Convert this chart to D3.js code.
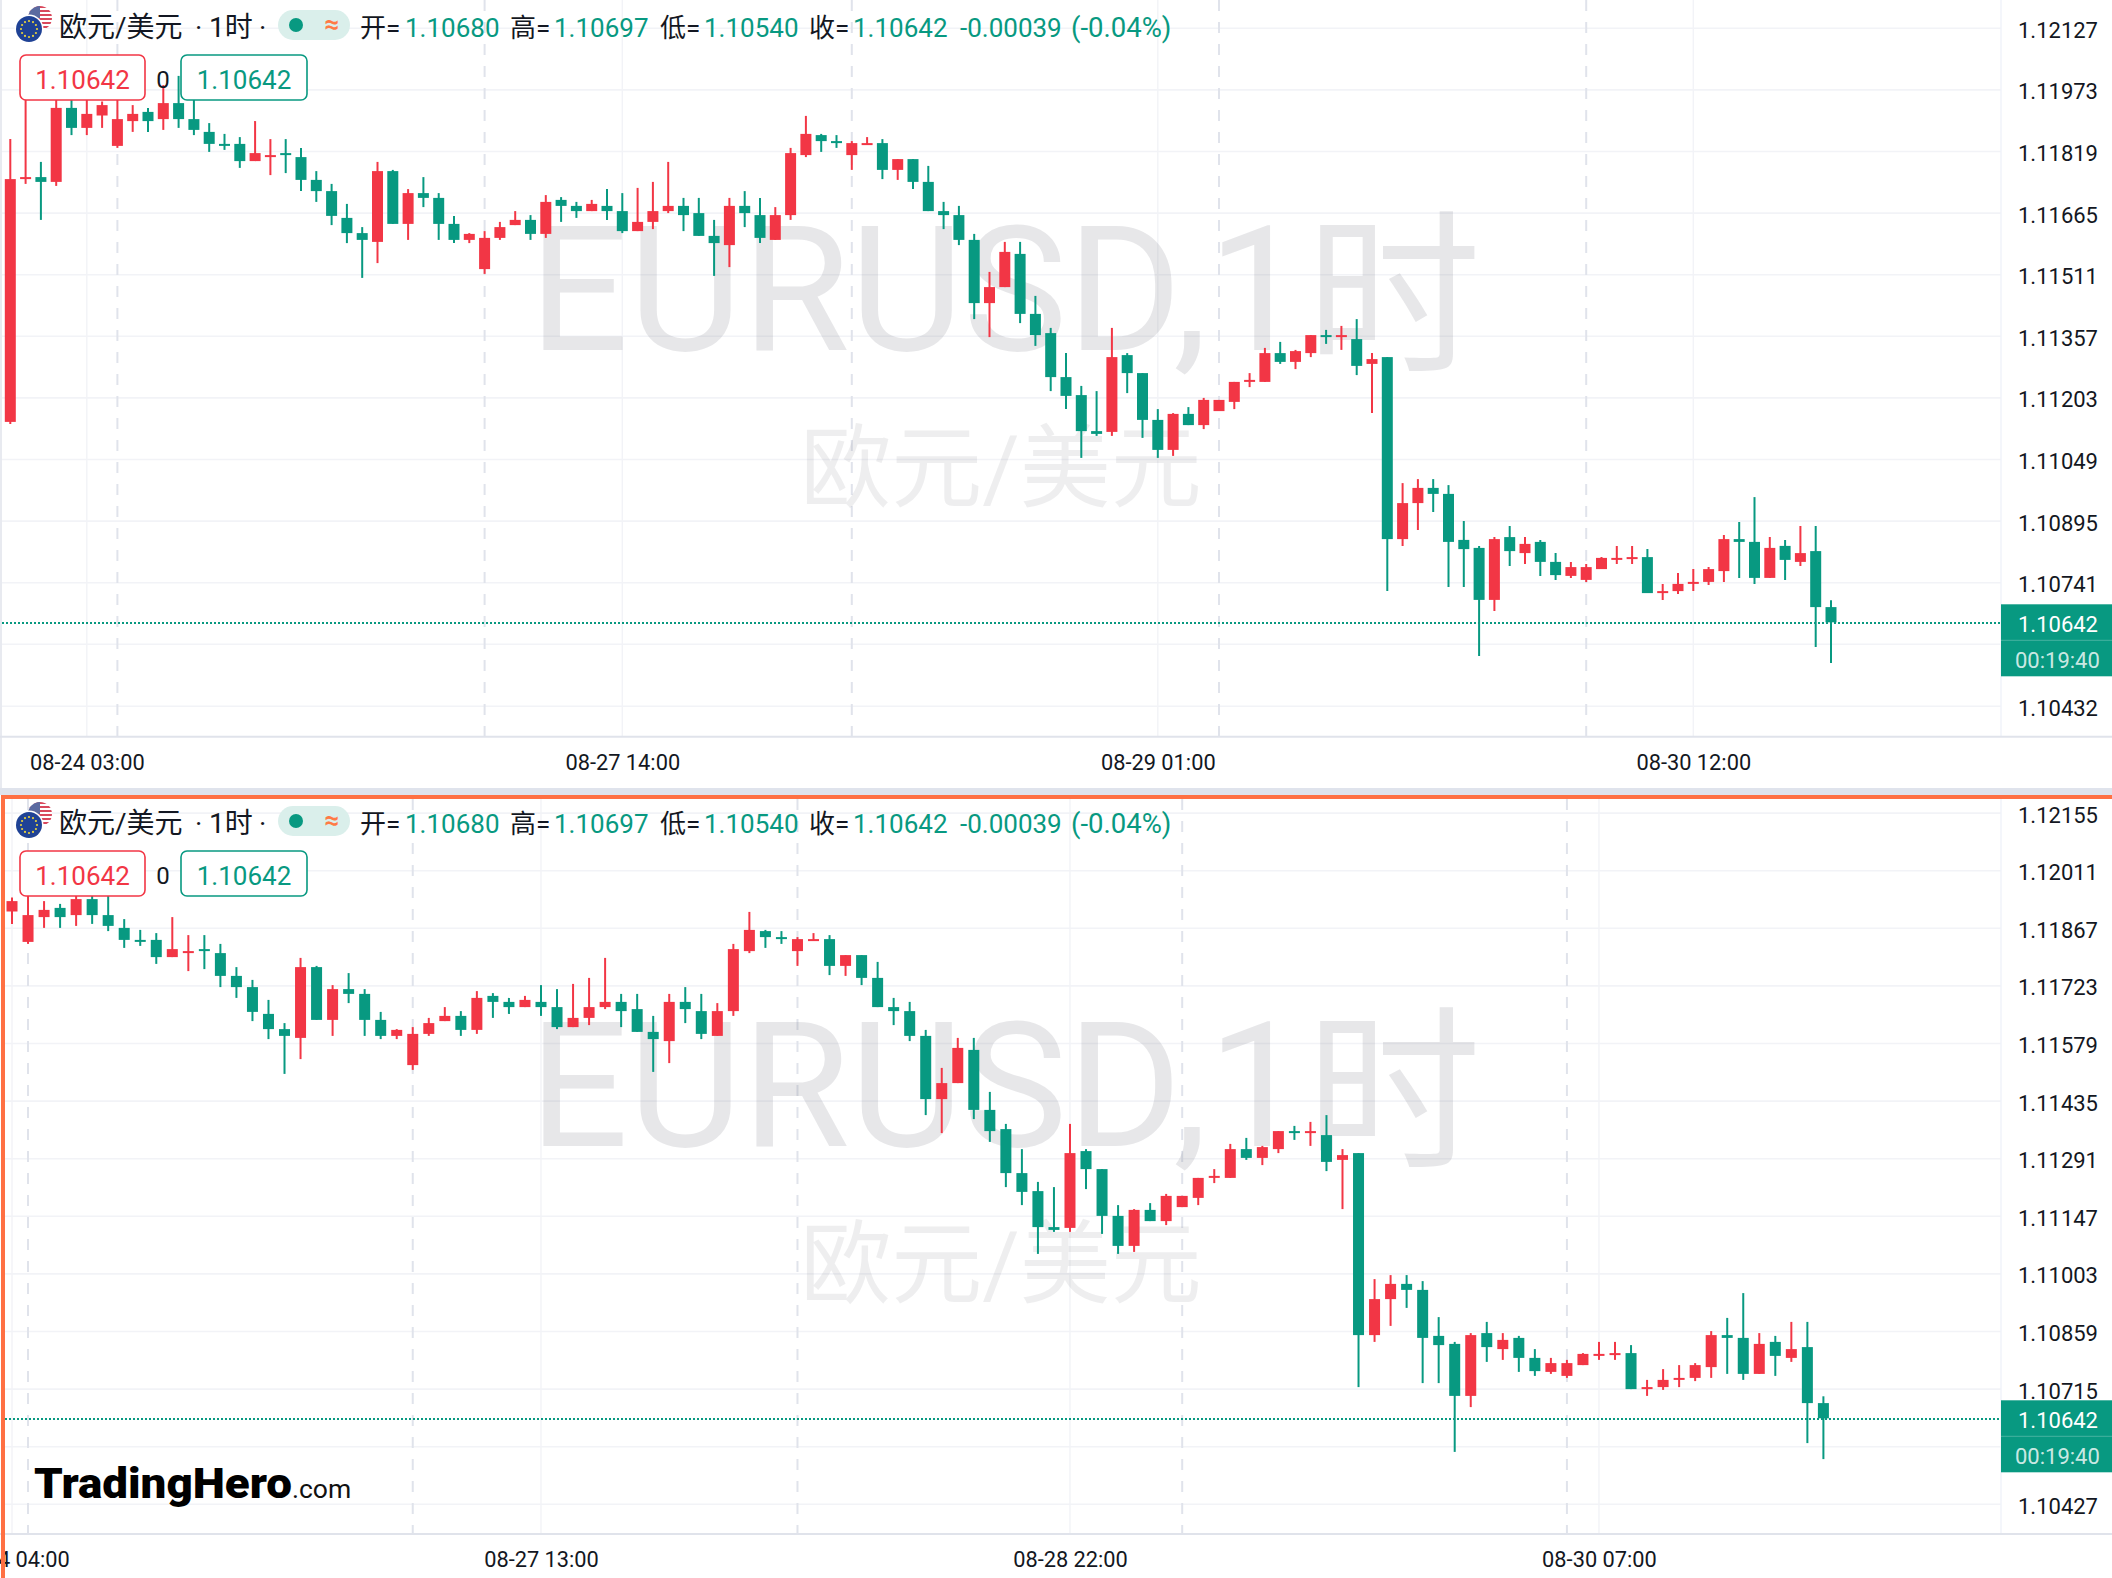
<!DOCTYPE html>
<html lang="zh">
<head>
    <meta charset="UTF-8">
    <title>EURUSD 1H</title>
    <script src="https://d3js.org/d3.v7.min.js"></script>
    <style>
        html, body { margin: 0; padding: 0; background: #fff; }
        svg { display: block; }
        text { font-family: Roboto, "Noto Sans CJK SC", sans-serif; }
        .price-axis text { font-size: 22px; fill: #131722; }
        .time-axis text { font-size: 21.8px; fill: #131722; }
    </style>
</head>
<body>
    <svg id="chart" width="2112" height="1578"></svg>

    <script>
        const opens = [1.11143,1.11750,1.11755,1.11743,1.11928,1.11878,1.11909,1.11833,1.11895,1.11918,
            1.11900,1.11940,1.11900,1.11868,1.11838,1.11838,1.11795,1.11805,1.11815,1.11805,
            1.11748,1.11720,1.11653,1.11615,1.11593,1.11770,1.11638,1.11715,1.11703,1.11638,
            1.11598,1.11525,1.11603,1.11635,1.11648,1.11613,1.11698,1.11683,1.11670,1.11683,
            1.11670,1.11620,1.11643,1.11670,1.11683,1.11665,1.11608,1.11585,1.11683,1.11660,
            1.11598,1.11660,1.11810,1.11860,1.11845,1.11810,1.11838,1.11840,1.11773,1.11800,
            1.11743,1.11670,1.11660,1.11598,1.11440,1.11480,1.11563,1.11413,1.11365,1.11255,
            1.11210,1.11120,1.11118,1.11310,1.11265,1.11148,1.11073,1.11163,1.11135,1.11170,
            1.11193,1.11243,1.11243,1.11315,1.11293,1.11315,1.11360,1.11355,1.11350,1.11288,
            1.11305,1.10850,1.10940,1.10978,1.10963,1.10848,1.10828,1.10698,1.10855,1.10815,
            1.10843,1.10793,1.10758,1.10748,1.10775,1.10798,1.10803,1.10805,1.10715,1.10720,
            1.10738,1.10743,1.10770,1.10850,1.10843,1.10753,1.10833,1.10793,1.10820,1.10680];
        const highs = [1.11850,1.12031,1.11793,1.11964,1.11948,1.11956,1.11944,1.11956,1.11935,1.11928,
            1.11985,1.12008,1.11956,1.11890,1.11863,1.11855,1.11895,1.11850,1.11850,1.11828,
            1.11770,1.11738,1.11688,1.11630,1.11793,1.11773,1.11725,1.11755,1.11715,1.11658,
            1.11615,1.11620,1.11643,1.11670,1.11660,1.11710,1.11705,1.11693,1.11698,1.11725,
            1.11715,1.11728,1.11743,1.11793,1.11703,1.11703,1.11648,1.11703,1.11720,1.11703,
            1.11680,1.11828,1.11908,1.11863,1.11860,1.11845,1.11855,1.11850,1.11800,1.11800,
            1.11783,1.11693,1.11683,1.11613,1.11518,1.11593,1.11593,1.11458,1.11378,1.11315,
            1.11233,1.11220,1.11378,1.11315,1.11265,1.11175,1.11165,1.11180,1.11203,1.11198,
            1.11243,1.11265,1.11328,1.11343,1.11323,1.11360,1.11373,1.11383,1.11400,1.11315,
            1.11305,1.10990,1.11000,1.11000,1.10985,1.10895,1.10833,1.10855,1.10883,1.10855,
            1.10848,1.10815,1.10793,1.10788,1.10805,1.10833,1.10833,1.10825,1.10738,1.10765,
            1.10775,1.10780,1.10860,1.10893,1.10955,1.10855,1.10848,1.10883,1.10883,1.10697];
        const lows = [1.11138,1.11738,1.11648,1.11733,1.11860,1.11860,1.11878,1.11828,1.11868,1.11868,
            1.11873,1.11878,1.11860,1.11818,1.11823,1.11778,1.11795,1.11760,1.11765,1.11720,
            1.11693,1.11635,1.11590,1.11503,1.11540,1.11638,1.11598,1.11680,1.11598,1.11590,
            1.11590,1.11513,1.11598,1.11635,1.11598,1.11603,1.11643,1.11653,1.11670,1.11648,
            1.11615,1.11620,1.11625,1.11665,1.11620,1.11608,1.11508,1.11530,1.11630,1.11590,
            1.11598,1.11648,1.11805,1.11818,1.11828,1.11773,1.11838,1.11750,1.11748,1.11725,
            1.11670,1.11625,1.11585,1.11400,1.11355,1.11480,1.11390,1.11333,1.11220,1.11175,
            1.11053,1.11108,1.11108,1.11215,1.11103,1.11053,1.11058,1.11135,1.11125,1.11170,
            1.11175,1.11230,1.11243,1.11288,1.11275,1.11305,1.11338,1.11323,1.11260,1.11165,
            1.10720,1.10833,1.10873,1.10918,1.10730,1.10730,1.10558,1.10670,1.10783,1.10788,
            1.10758,1.10748,1.10753,1.10743,1.10775,1.10788,1.10788,1.10715,1.10698,1.10713,
            1.10720,1.10735,1.10743,1.10753,1.10738,1.10753,1.10748,1.10783,1.10580,1.10540];
        const closes = [1.11750,1.11755,1.11743,1.11928,1.11878,1.11913,1.11935,1.11900,1.11913,1.11895,
            1.11940,1.11900,1.11873,1.11838,1.11833,1.11795,1.11815,1.11810,1.11810,1.11748,
            1.11720,1.11658,1.11615,1.11598,1.11770,1.11638,1.11715,1.11703,1.11638,1.11598,
            1.11613,1.11603,1.11630,1.11648,1.11613,1.11693,1.11683,1.11670,1.11688,1.11670,
            1.11620,1.11643,1.11670,1.11683,1.11660,1.11608,1.11590,1.11683,1.11665,1.11603,
            1.11660,1.11815,1.11863,1.11845,1.11840,1.11840,1.11840,1.11773,1.11800,1.11743,
            1.11670,1.11660,1.11598,1.11440,1.11480,1.11568,1.11413,1.11360,1.11255,1.11208,
            1.11120,1.11113,1.11305,1.11265,1.11148,1.11073,1.11163,1.11135,1.11198,1.11198,
            1.11243,1.11248,1.11315,1.11293,1.11320,1.11360,1.11358,1.11360,1.11283,1.11300,
            1.10850,1.10940,1.10978,1.10963,1.10843,1.10825,1.10698,1.10850,1.10820,1.10838,
            1.10793,1.10760,1.10780,1.10780,1.10803,1.10803,1.10805,1.10715,1.10720,1.10738,
            1.10743,1.10775,1.10850,1.10843,1.10753,1.10828,1.10798,1.10815,1.10680,1.10642];

        const lastPrice = 1.10642;
        const countdown = "00:19:40";

        // Tick values and labels
        const topPriceTicks = [1.12127,1.11973,1.11819,1.11665,1.11511,1.11357,1.11203,1.11049,1.10895,1.10741,1.10587,1.10432];
        const bottomPriceTicks = [1.12155,1.12011,1.11867,1.11723,1.11579,1.11435,1.11291,1.11147,1.11003,1.10859,1.10715,1.10571,1.10427];
        const topTimeBars = [5, 40, 75, 110];
        const topTimeLabels = ["08-24 03:00", "08-27 14:00", "08-29 01:00", "08-30 12:00"];
        const bottomTimeBars = [6, 39, 72, 105];
        const bottomTimeLabels = ["08-24 04:00", "08-27 13:00", "08-28 22:00", "08-30 07:00"];
        const dayStartBars = [7, 31, 55, 79, 103];

        const UP = "#f23645", DOWN = "#089981", GRID = "#f2f3f7", DASH = "#e0e3eb";
        const PLOT_RIGHT = 2001;

        const svg = d3.select("#chart");

        // One panel: same drawing for both, only the scales and the offset differ
        function drawPanel(opt) {
            const g = svg.append("g").attr("transform", `translate(0,${opt.offset})`);
            const x = d3.scaleLinear().domain(opt.xDomain).range(opt.xRange);
            const y = d3.scaleLinear().domain(opt.yDomain).range(opt.yRange);
            const axisY = opt.axisY;

            // grid
            g.append("g").selectAll("line").data(opt.priceTicks).join("line")
                .attr("x1", opt.left).attr("x2", PLOT_RIGHT)
                .attr("y1", d => y(d)).attr("y2", d => y(d))
                .attr("stroke", GRID).attr("stroke-width", 1.6);
            g.append("g").selectAll("line").data(opt.timeBars).join("line")
                .attr("x1", d => x(d)).attr("x2", d => x(d))
                .attr("y1", opt.top).attr("y2", axisY)
                .attr("stroke", GRID).attr("stroke-width", 1.4);
            g.append("g").selectAll("line").data(dayStartBars).join("line")
                .attr("x1", d => x(d)).attr("x2", d => x(d))
                .attr("y1", opt.top).attr("y2", axisY)
                .attr("stroke", DASH).attr("stroke-width", 2)
                .attr("stroke-dasharray", "11,11");

            // watermark
            const mark = g.append("text").attr("x", 1005).attr("y", 350)
                .attr("text-anchor", "middle")
                .attr("font-size", 175)
                .attr("fill", "rgba(120,123,134,0.18)")
                .text("EURUSD,1");
            mark.append("tspan").attr("dy", 8).text("时");
            g.append("text").attr("x", 1001).attr("y", 500)
                .attr("text-anchor", "middle")
                .attr("font-size", 91)
                .attr("fill", "rgba(120,123,134,0.13)")
                .text("欧元/美元");

            // candles
            const clipId = "clip" + opt.offset;
            g.append("clipPath").attr("id", clipId).append("rect")
                .attr("x", opt.left).attr("y", opt.top)
                .attr("width", PLOT_RIGHT - opt.left).attr("height", axisY - opt.top);
            const candles = g.append("g").attr("clip-path", `url(#${clipId})`);
            const color = i => closes[i] > opens[i] ? UP : DOWN;
            const bars = d3.range(opens.length);
            candles.selectAll("line").data(bars).join("line")
                .attr("x1", i => x(i)).attr("x2", i => x(i))
                .attr("y1", i => y(highs[i])).attr("y2", i => y(lows[i]))
                .attr("stroke", color).attr("stroke-width", 2);
            candles.selectAll("rect").data(bars).join("rect")
                .attr("x", i => x(i) - 5.5).attr("width", 11)
                .attr("y", i => y(Math.max(opens[i], closes[i])))
                .attr("height", i => Math.max(2, Math.abs(y(opens[i]) - y(closes[i]))))
                .attr("fill", color);

            // last price line
            g.append("line")
                .attr("x1", opt.left).attr("x2", PLOT_RIGHT)
                .attr("y1", Math.round(y(lastPrice)) + 1).attr("y2", Math.round(y(lastPrice)) + 1)
                .attr("stroke", DOWN).attr("stroke-width", 2)
                .attr("stroke-dasharray", "2,2")
                .attr("shape-rendering", "crispEdges");

            // axes frame
            g.append("line").attr("x1", PLOT_RIGHT).attr("x2", PLOT_RIGHT)
                .attr("y1", opt.top).attr("y2", axisY)
                .attr("stroke", "#f0f3fa").attr("stroke-width", 1.4);
            g.append("line").attr("x1", 0).attr("x2", 2112)
                .attr("y1", axisY).attr("y2", axisY)
                .attr("stroke", "#e0e3eb").attr("stroke-width", 2);

            // price axis
            const priceAxis = g.append("g").attr("class", "price-axis")
                .attr("transform", `translate(${PLOT_RIGHT},2)`)
                .call(d3.axisRight(y).tickValues(opt.priceTicks).tickSize(0).tickPadding(17).tickFormat(d3.format(".5f")));
            priceAxis.select(".domain").remove();

            // time axis
            const timeAxis = g.append("g").attr("class", "time-axis")
                .attr("transform", `translate(0,${axisY})`)
                .call(d3.axisBottom(x).tickValues(opt.timeBars).tickSize(0).tickPadding(18)
                    .tickFormat((d, i) => opt.timeLabels[i]));
            timeAxis.select(".domain").remove();

            // last price tag
            const tagY = y(lastPrice) - 18;
            g.append("rect").attr("x", PLOT_RIGHT).attr("y", tagY)
                .attr("width", 111).attr("height", 72).attr("fill", DOWN);
            g.append("line").attr("x1", PLOT_RIGHT).attr("x2", 2112)
                .attr("y1", tagY + 36).attr("y2", tagY + 36)
                .attr("stroke", "#ffffff").attr("stroke-opacity", 0.25);
            g.append("text").attr("x", 2018).attr("y", y(lastPrice) + 10)
                .attr("font-size", 22).attr("fill", "#fff").text(d3.format(".5f")(lastPrice));
            g.append("text").attr("x", 2015).attr("y", y(lastPrice) + 46)
                .attr("font-size", 22).attr("fill", "#fff").attr("fill-opacity", 0.8).text(countdown);

            drawLegend(g);
        }

        function drawLegend(g) {
            // flags
            const us = g.append("g");
            const usClip = "usflag" + Math.random().toString(36).slice(2);
            us.append("clipPath").attr("id", usClip).append("circle").attr("cx", 40).attr("cy", 18).attr("r", 12);
            const usBody = us.append("g").attr("clip-path", `url(#${usClip})`);
            usBody.append("rect").attr("x", 26).attr("y", 4).attr("width", 28).attr("height", 28).attr("fill", "#fff");
            usBody.selectAll("rect.stripe").data(d3.range(6)).join("rect")
                .attr("class", "stripe").attr("x", 26).attr("y", d => 6 + d * 4)
                .attr("width", 28).attr("height", 2).attr("fill", "#d8485c");
            usBody.append("rect").attr("x", 26).attr("y", 4).attr("width", 14).attr("height", 14).attr("fill", "#5b6aa0");

            g.append("circle").attr("cx", 29).attr("cy", 29).attr("r", 14.5).attr("fill", "#fff");
            g.append("circle").attr("cx", 29).attr("cy", 29).attr("r", 13).attr("fill", "#1f4295");
            g.selectAll("circle.star").data(d3.range(12)).join("circle")
                .attr("class", "star").attr("r", 1.1).attr("fill", "#e8d23c")
                .attr("cx", d => 29 + 8 * Math.cos(d * Math.PI / 6))
                .attr("cy", d => 29 + 8 * Math.sin(d * Math.PI / 6));

            const baseY = 36.5;
            const put = (x, s, fill, size) => g.append("text").attr("x", x).attr("y", baseY)
                .attr("font-size", size || 26).attr("fill", fill).text(s);

            put(59, "欧元/美元", "#131722", 28);
            put(195, "·", "#131722", 28);
            put(209, "1时", "#131722", 28);
            put(259, "·", "#131722", 28);

            // status pill
            g.append("rect").attr("x", 278).attr("y", 10).attr("width", 72).attr("height", 30)
                .attr("rx", 15).attr("fill", "#daefeb");
            g.append("circle").attr("cx", 296).attr("cy", 25).attr("r", 7).attr("fill", DOWN);
            g.append("text").attr("x", 332).attr("y", 33).attr("text-anchor", "middle")
                .attr("font-size", 26).attr("font-weight", 700).attr("fill", "#ff7a45").text("≈");

            // OHLC readout
            put(360, "开=", "#131722");
            put(405, "1.10680", DOWN);
            put(510, "高=", "#131722");
            put(554, "1.10697", DOWN);
            put(660, "低=", "#131722");
            put(704, "1.10540", DOWN);
            put(809, "收=", "#131722");
            put(853, "1.10642", DOWN);
            put(960, "-0.00039", DOWN);
            put(1071, "(-0.04%)", DOWN, 27.5);

            // bid / ask boxes
            const box = (x, w, c) => {
                g.append("rect").attr("x", x).attr("y", 55).attr("width", w).attr("height", 45)
                    .attr("rx", 6).attr("fill", "#fff").attr("stroke", c).attr("stroke-width", 1.6);
                g.append("text").attr("x", x + w / 2).attr("y", 88.5).attr("text-anchor", "middle")
                    .attr("font-size", 26).attr("fill", c).text("1.10642");
            };
            box(20, 125, UP);
            box(181, 126, DOWN);
            g.append("text").attr("x", 163).attr("y", 87.5).attr("text-anchor", "middle")
                .attr("font-size", 24).attr("fill", "#131722").text("0");
        }

        drawPanel({
            offset: 0, top: 0, left: 2, axisY: 736.7,
            xDomain: [0, 119], xRange: [10.3, 1831],
            yDomain: [1.12127, 1.10432], yRange: [28.3, 706.3],
            priceTicks: topPriceTicks, timeBars: topTimeBars, timeLabels: topTimeLabels
        });

        drawPanel({
            offset: 796, top: 3, left: 5, axisY: 738,
            xDomain: [6, 119], xRange: [12, 1823.4],
            yDomain: [1.12011, 1.10427], yRange: [74.7, 708.3],
            priceTicks: bottomPriceTicks, timeBars: bottomTimeBars, timeLabels: bottomTimeLabels
        });

        // left edge of the top panel
        svg.append("line").attr("x1", 1).attr("x2", 1).attr("y1", 0).attr("y2", 788)
            .attr("stroke", "#e0e3eb").attr("stroke-width", 1.5);

        // gap between the panels and the orange frame of the active one
        svg.append("rect").attr("x", 0).attr("y", 788).attr("width", 2112).attr("height", 7).attr("fill", "#dfe3ec");
        svg.append("rect").attr("x", 1).attr("y", 795).attr("width", 2111).attr("height", 4).attr("fill", "#ff7043");
        svg.append("rect").attr("x", 1).attr("y", 795).attr("width", 4).attr("height", 783).attr("fill", "#ff7043");

        // logo
        svg.append("text").attr("x", 34).attr("y", 1498)
            .attr("font-family", "Lato").attr("font-weight", 900).attr("font-size", 43)
            .attr("textLength", 258).attr("lengthAdjust", "spacingAndGlyphs")
            .attr("fill", "#000").text("TradingHero");
        svg.append("text").attr("x", 292).attr("y", 1498)
            .attr("font-size", 26.5).attr("fill", "#111").text(".com");
    </script>
</body>
</html>
